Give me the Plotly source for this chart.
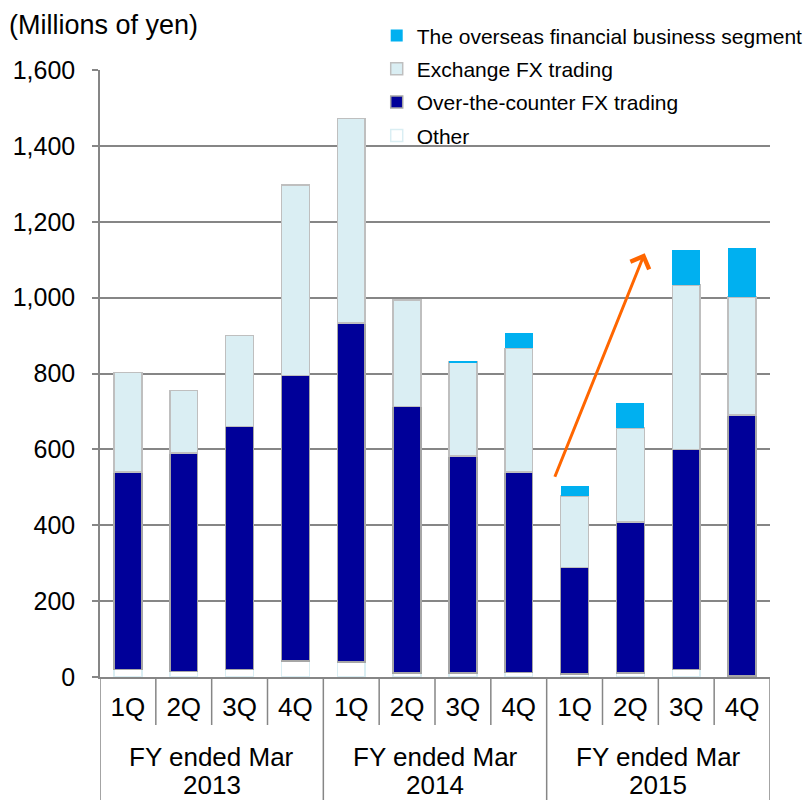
'''
    Quarterly operating revenue by segment, stacked bar chart.
'''

import plotly.graph_objects as go

FY_LABEL = "FY ended Mar"
YEARS = ["2013", "2014", "2015"]
QUARTERS = ["1Q", "2Q", "3Q", "4Q"]

OTHER = [20, 15, 20, 42, 40, 10, 10, 12, 8, 10, 20, 2]
OTC_FX = [520, 575, 640, 753, 893, 703, 572, 529, 281, 398, 580, 688]
EXCHANGE_FX = [262, 165, 240, 502, 539, 281, 248, 325, 188, 248, 433, 312]
OVERSEAS = [0, 0, 0, 0, 0, 0, 3, 42, 26, 65, 92, 130]

# name, values, fill, edge colour, edge width, legend rank
SERIES = [
    ("Other", OTHER, "#FFFFFF", "#DAEEF3", 1.5, 4),
    ("Over-the-counter FX trading", OTC_FX, "#000099", "#A6A6A6", 1.5, 3),
    ("Exchange FX trading", EXCHANGE_FX, "#DAEEF3", "#BFBFBF", 1.5, 2),
    ("The overseas financial business segment", OVERSEAS, "#00B0F0", "#00B0F0", 0, 1),
]

GRID = "#868686"
FONT = "Liberation Sans, Arial, sans-serif"

N_BARS = len(YEARS) * len(QUARTERS)
PLOT_H = 607


def generate_plot():
    x = list(range(N_BARS))
    fig = go.Figure()
    for i, (name, values, fill, edge, edge_w, rank) in enumerate(SERIES):
        fig.add_trace(go.Bar(
            x=x,
            y=values,
            name=name,
            legendgroup=str(i),
            legendrank=rank,
            marker=dict(color=fill, line=dict(color=edge, width=edge_w)),
        ))

    # the page body adds an 8px margin, so the figure is 8px smaller
    fig.update_layout(
        barmode="stack",
        bargap=0.5,
        width=803,
        height=792,
        margin=dict(l=92, r=41, t=62, b=123, autoexpand=False),
        paper_bgcolor="#FFFFFF",
        plot_bgcolor="#FFFFFF",
        font=dict(family=FONT, size=25, color="#000000"),
        legend=dict(
            x=0.413,
            y=1.09,
            xanchor="left",
            yanchor="top",
            traceorder="grouped",
            tracegroupgap=3,
            font=dict(size=21),
            bgcolor="rgba(0,0,0,0)",
        ),
        showlegend=True,
    )

    fig.update_yaxes(
        range=[0, 1600],
        dtick=200,
        tickformat=",",
        showgrid=True,
        gridcolor=GRID,
        gridwidth=1.5,
        showline=True,
        linecolor=GRID,
        linewidth=1.5,
        ticks="outside",
        ticklen=6,
        tickcolor=GRID,
        tickwidth=1.5,
        ticklabelstandoff=12,
        zeroline=False,
        tickfont=dict(size=25),
    )

    fig.update_xaxes(
        range=[-0.5, N_BARS - 0.5],
        tickvals=x,
        ticktext=QUARTERS * len(YEARS),
        showgrid=False,
        zeroline=False,
        showline=True,
        linecolor=GRID,
        linewidth=1.5,
        ticks="",
        ticklabelstandoff=6,
        tickfont=dict(size=26),
    )

    # category dividers below the axis: short between quarters, long between years
    for b in range(N_BARS + 1):
        long_line = b % len(QUARTERS) == 0
        fig.add_shape(
            type="line",
            xref="x",
            yref="paper",
            x0=b - 0.5,
            x1=b - 0.5,
            y0=0,
            y1=-(123 if long_line else 48) / PLOT_H,
            line=dict(color=GRID, width=1.5),
        )

    for g, year in enumerate(YEARS):
        center = g * len(QUARTERS) + (len(QUARTERS) - 1) / 2
        for text, ypix in ((FY_LABEL, 80), (year, 108)):
            fig.add_annotation(
                text=text,
                xref="x",
                yref="paper",
                x=center,
                y=-ypix / PLOT_H,
                xanchor="center",
                yanchor="middle",
                showarrow=False,
                font=dict(size=26),
            )

    fig.add_annotation(
        text="",
        xref="x domain",
        yref="y",
        axref="x domain",
        ayref="y",
        x=0.813,
        y=1117,
        ax=0.678,
        ay=524,
        showarrow=True,
        arrowhead=4,
        arrowsize=1.3,
        arrowwidth=3,
        arrowcolor="#FF6600",
    )

    fig.add_annotation(
        text="(Millions of yen)",
        xref="paper",
        yref="paper",
        x=-0.139,
        y=1 + 45 / PLOT_H,
        xanchor="left",
        yanchor="middle",
        showarrow=False,
        font=dict(size=27),
    )
    return fig


fig = generate_plot()
fig.write_html("out.html")
